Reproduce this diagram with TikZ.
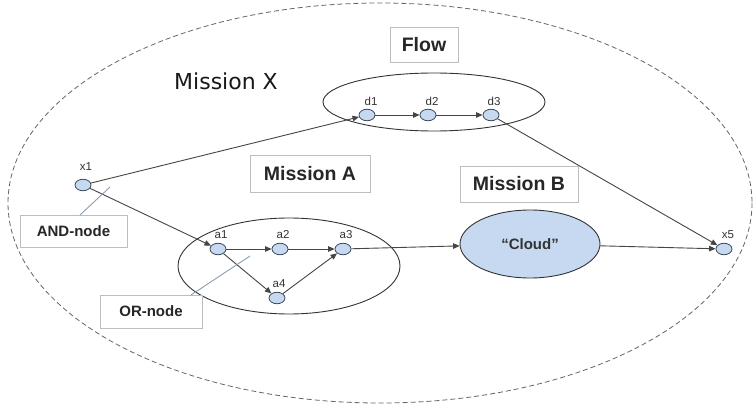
\documentclass[tikz,border=0pt]{standalone}
\usepackage{fontspec}
\setmainfont{Liberation Sans}
\newfontfamily\mxfont{DejaVu Sans}
\usetikzlibrary{shapes.geometric,arrows.meta}
\definecolor{nodefill}{HTML}{C6D9F0}
\definecolor{nodeline}{HTML}{3A4A5A}
\definecolor{edgecol}{HTML}{454545}
\definecolor{boxline}{HTML}{BDBDBD}
\definecolor{calloutline}{HTML}{8A9DB5}
\begin{document}
\begin{tikzpicture}[x=1pt,y=-1pt,
  vtx/.style={ellipse,draw=nodeline,fill=nodefill,line width=0.8pt,minimum width=16pt,minimum height=11.5pt,inner sep=0pt},
  vlab/.style={font=\fontsize{11.5}{12}\selectfont,text=black!80,inner sep=0pt},
  ring/.style={ellipse,draw=black!80,line width=0.9pt,inner sep=0pt},
  titlebox/.style={draw=boxline,fill=white,line width=0.8pt,inner sep=0pt,font=\fontsize{19.5}{22}\selectfont\bfseries,text=black!85},
  notebox/.style={draw=boxline,fill=white,line width=0.8pt,inner sep=0pt,font=\fontsize{15}{18}\selectfont\bfseries,text=black!85},
  edge/.style={draw=edgecol,line width=0.9pt,-{Triangle[length=6.5pt,width=5.5pt]}},
  callout/.style={draw=calloutline,line width=0.9pt}
]
\useasboundingbox (0,0) rectangle (755,406);
\fill[white] (0,0) rectangle (755,406);

% outer dashed mission X
\draw[draw=black!60,line width=0.8pt,dash pattern=on 5pt off 3pt] (380,203) ellipse [x radius=372, y radius=200];
\node[font=\mxfont\fontsize{22}{26}\selectfont,text=black!90] (mx) at (226,81) {Mission X};

% group ellipses
\node[ring,minimum width=222pt,minimum height=58pt] (flowring) at (434,102) {};
\node[ring,minimum width=222pt,minimum height=96pt] (aring) at (289,266) {};

% title boxes
\node[titlebox,minimum width=68pt,minimum height=35pt] (flowlbl) at (424,45) {Flow};
\node[titlebox,minimum width=120pt,minimum height=37pt] (albl) at (310,174) {Mission A};
\node[titlebox,minimum width=118pt,minimum height=36pt] (blbl) at (519,184) {Mission B};

% vertices
\node[vtx] (x1) at (83,185) {};
\node[vlab] at (86,167) {x1};
\node[vtx] (d1) at (367,115) {};
\node[vlab] at (371,101) {d1};
\node[vtx] (d2) at (428,115) {};
\node[vlab] at (432,101) {d2};
\node[vtx] (d3) at (491,115) {};
\node[vlab] at (494,101) {d3};
\node[vtx] (a1) at (218,249) {};
\node[vlab] at (221,235) {a1};
\node[vtx] (a2) at (280,249) {};
\node[vlab] at (283,235) {a2};
\node[vtx] (a3) at (343,249) {};
\node[vlab] at (346,235) {a3};
\node[vtx] (a4) at (277,298) {};
\node[vlab] at (279,284) {a4};
\node[vtx] (x5) at (724,249) {};
\node[vlab] at (728,235) {x5};
\node[ellipse,draw=black!80,fill=nodefill,line width=0.9pt,minimum width=140pt,minimum height=68pt,inner sep=0pt,font=\fontsize{15}{18}\selectfont\bfseries,text=black!80] (cloud) at (530,244) {“Cloud”};

% edges
\draw[edge] (x1) -- (d1);
\draw[edge] (x1) -- (a1);
\draw[edge] (d1) -- (d2);
\draw[edge] (d2) -- (d3);
\draw[edge] (d3) -- (x5);
\draw[edge] (a1) -- (a2);
\draw[edge] (a2) -- (a3);
\draw[edge] (a1) -- (a4);
\draw[edge] (a4) -- (a3);
\draw[edge] (a3) -- (cloud);
\draw[edge] (cloud) -- (x5);

% callouts
\coordinate (andtip) at (110,187);
\coordinate (ortip) at (250,256);
\node[notebox,minimum width=107pt,minimum height=32pt] (andbox) at (73.5,231) {AND-node};
\node[notebox,minimum width=102pt,minimum height=33pt] (orbox) at (151,311.5) {OR-node};
\draw[callout] (80,215) -- (andtip);
\draw[callout] (191,295) -- (ortip);
\end{tikzpicture}
\end{document}
